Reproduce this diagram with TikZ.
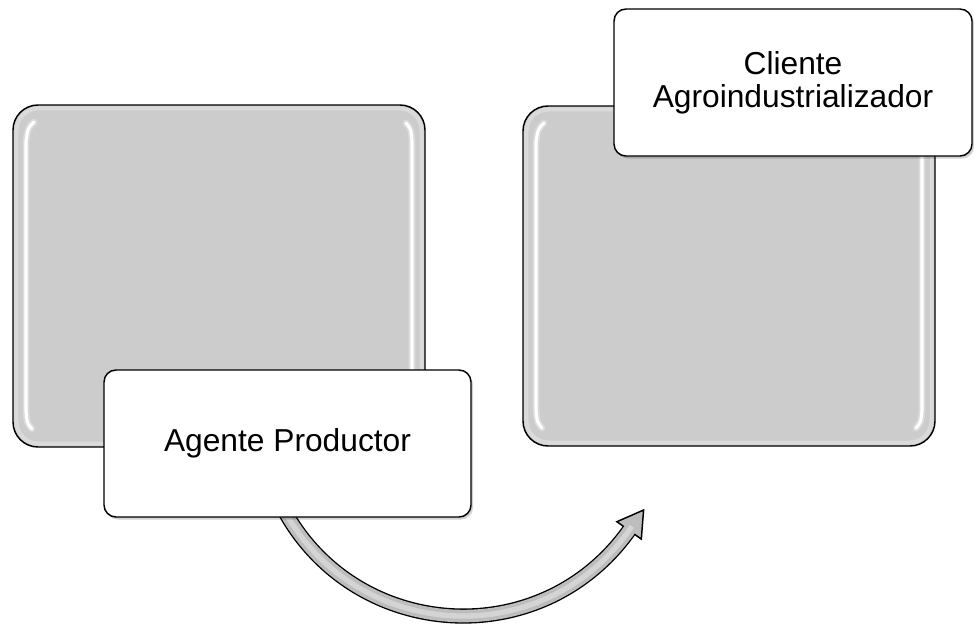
\documentclass[tikz,border=0pt]{standalone}
\usepackage{fontspec}
\setmainfont{Liberation Sans}
\usetikzlibrary{calc}
\definecolor{panelgray}{HTML}{CCCCCC}
\definecolor{panelrim}{HTML}{DADADA}
\definecolor{shaftgray}{HTML}{BDBDBD}
\definecolor{shaftlight}{HTML}{D4D4D4}

\begin{document}
\begin{tikzpicture}[x=0.75pt,y=-0.75pt,
  panel/.style={draw=black, line width=1.1pt, fill=panelgray, rounded corners=18.75pt,
    minimum width=309pt, minimum height=256.5pt, inner sep=0pt},
  rim/.style={draw=panelrim, line width=3pt, fill=none, rounded corners=16.5pt,
    minimum width=303.8pt, minimum height=251.3pt, inner sep=0pt},
  labelbox/.style={draw=black, line width=1.1pt, fill=white, rounded corners=9pt,
    minimum width=275.25pt, minimum height=110.25pt, align=center, inner sep=0pt,
    font=\fontsize{23.8}{24.8}\selectfont},
  boxshadow/.style={draw=none, fill=black, opacity=0.18, rounded corners=9pt,
    minimum width=275.25pt, minimum height=110.25pt, inner sep=0pt},
  gloss/.style={white, line width=2.3pt, line cap=round},
  glow/.style={white, line width=5pt, line cap=round, opacity=0.3},
]
% canvas
\useasboundingbox (0,0) rectangle (974,626);

% two grey panels with a lighter rim
\node[panel] (left) at (219,276) {};
\node[rim] at (219,276) {};
\node[panel, minimum height=255pt] (right) at (729,276) {};
\node[rim, minimum height=249.8pt] at (729,276) {};

% glossy highlights along the panel sides
\foreach \L/\T/\B in {13/105/447, 523/106/446} {
  \draw[glow] (\L+21,\T+17) .. controls (\L+15,\T+23) .. (\L+13,\T+36) -- (\L+13,\B-36)
    .. controls (\L+14,\B-24) .. (\L+19,\B-18);
  \draw[gloss] (\L+21,\T+17) .. controls (\L+15,\T+23) .. (\L+13,\T+36) -- (\L+13,\B-36)
    .. controls (\L+14,\B-24) .. (\L+19,\B-18);
}
\foreach \R/\T/\B in {425/105/447, 935/106/446} {
  \draw[glow] (\R-19,\T+18) .. controls (\R-14,\T+24) .. (\R-13,\T+36) -- (\R-13,\B-36)
    .. controls (\R-14,\B-24) .. (\R-19,\B-18);
  \draw[gloss] (\R-19,\T+18) .. controls (\R-14,\T+24) .. (\R-13,\T+36) -- (\R-13,\B-36)
    .. controls (\R-14,\B-24) .. (\R-19,\B-18);
}

% curved arrow from the producer to the client
\coordinate (arrS) at (278.1,498.2);
\coordinate (arrC1) at (344.2,639.9);
\coordinate (arrC2) at (538.3,657.7);
\coordinate (arrE) at (629.1,530.4);
\coordinate (arrTip) at (643.6,510.0);
\coordinate (arrL) at (616.9,521.7);
\coordinate (arrR) at (641.3,539.1);
\draw[black, line width=11.4pt] (arrS) .. controls (arrC1) and (arrC2) .. (arrE);
\draw[shaftgray, line width=9.4pt] (arrS) .. controls (arrC1) and (arrC2) .. (arrE);
\draw[shaftlight, line width=4pt] (arrS) .. controls (arrC1) and (arrC2) .. (arrE);
\filldraw[fill=shaftgray, draw=black, line width=1.1pt, line join=miter] (arrTip) -- (arrL) -- (arrR) -- cycle;
% join the shaft into the head without the base line showing
\draw[shaftgray, line width=9.4pt] ($(arrE)!-0.12!(arrTip)$) -- ($(arrE)!0.25!(arrTip)$);
\draw[shaftlight, line width=4pt] ($(arrE)!-0.12!(arrTip)$) -- ($(arrE)!0.2!(arrTip)$);

% label boxes with soft shadows
\node[boxshadow] at (289.5,446) {};
\node[labelbox] (agente) at (287.5,443.5) {Agente Productor};
\node[boxshadow, minimum width=268.5pt] at (795,85) {};
\node[labelbox, minimum width=268.5pt] (cliente) at (793,82.5) {Cliente\\Agroindustrializador};
\end{tikzpicture}
\end{document}
